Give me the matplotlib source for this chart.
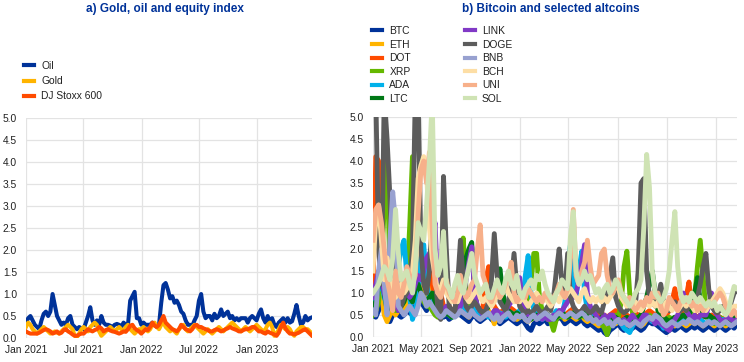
import matplotlib.pyplot as plt
import matplotlib.dates as mdates
import matplotlib.ticker as mticker
import pandas as pd

# weekly observations, Jan 2021 - Jun 2023
dates = pd.date_range("2021-01-01", periods=130, freq="7D")

# panel a)
oil = [
    0.35, 0.45, 0.5, 0.4, 0.3, 0.25, 0.2, 0.4, 0.55, 0.6,
    0.5, 0.6, 1.0, 0.75, 0.5, 0.4, 0.3, 0.35, 0.3, 0.45,
    0.5, 0.3, 0.25, 0.2, 0.25, 0.22, 0.2, 0.35, 0.5, 0.7,
    0.4, 0.3, 0.4, 0.3, 0.5, 0.35, 0.3, 0.3, 0.28, 0.25,
    0.3, 0.32, 0.3, 0.25, 0.35, 0.3, 0.3, 0.85, 0.95, 1.05,
    0.45, 0.45, 0.3, 0.35, 0.3, 0.3, 0.3, 0.35, 0.3, 0.25,
    0.3, 0.8, 1.2, 1.25, 1.1, 0.9, 0.95, 0.8, 0.85, 0.75,
    0.6, 0.55, 0.4, 0.3, 0.3, 0.28, 0.4, 0.5, 0.85, 1.0,
    0.6, 0.45, 0.5, 0.5, 0.4, 0.55, 0.45, 0.5, 0.65, 0.5,
    0.55, 0.6, 0.45, 0.5, 0.4, 0.45, 0.4, 0.45, 0.45, 0.45,
    0.35, 0.45, 0.5, 0.45, 0.4, 0.55, 0.65, 0.45, 0.35, 0.5,
    0.35, 0.45, 0.3, 0.25, 0.35, 0.4, 0.45, 0.35, 0.45, 0.35,
    0.38, 0.55, 0.75, 0.5, 0.3, 0.35, 0.5, 0.4, 0.45, 0.47,
]
gold = [
    0.25, 0.35, 0.3, 0.2, 0.15, 0.1, 0.15, 0.2, 0.25, 0.2,
    0.15, 0.1, 0.12, 0.15, 0.12, 0.1, 0.15, 0.2, 0.25, 0.3,
    0.25, 0.2, 0.05, 0.02, 0.1, 0.2, 0.25, 0.2, 0.15, 0.25,
    0.3, 0.35, 0.3, 0.15, 0.05, 0.1, 0.15, 0.2, 0.25, 0.2,
    0.15, 0.2, 0.25, 0.2, 0.15, 0.25, 0.3, 0.2, 0.15, 0.1,
    0.15, 0.2, 0.2, 0.25, 0.2, 0.15, 0.2, 0.3, 0.35, 0.25,
    0.2, 0.3, 0.35, 0.25, 0.2, 0.15, 0.2, 0.15, 0.1, 0.2,
    0.25, 0.3, 0.2, 0.15, 0.2, 0.25, 0.3, 0.25, 0.2, 0.15,
    0.1, 0.15, 0.2, 0.15, 0.1, 0.15, 0.2, 0.25, 0.2, 0.15,
    0.2, 0.25, 0.3, 0.35, 0.3, 0.25, 0.2, 0.15, 0.2, 0.25,
    0.2, 0.15, 0.2, 0.25, 0.3, 0.25, 0.2, 0.15, 0.2, 0.3,
    0.35, 0.25, 0.05, 0.1, 0.2, 0.3, 0.25, 0.2, 0.25, 0.2,
    0.1, 0.05, 0.15, 0.2, 0.25, 0.25, 0.2, 0.2, 0.15, 0.1,
]
stoxx = [
    0.15, 0.12, 0.1, 0.1, 0.1, 0.1, 0.12, 0.15, 0.18, 0.2,
    0.18, 0.15, 0.1, 0.12, 0.15, 0.1, 0.12, 0.18, 0.2, 0.15,
    0.12, 0.08, 0.05, 0.05, 0.08, 0.1, 0.1, 0.15, 0.2, 0.17,
    0.15, 0.18, 0.2, 0.25, 0.22, 0.15, 0.18, 0.2, 0.17, 0.15,
    0.14, 0.12, 0.1, 0.12, 0.15, 0.14, 0.2, 0.28, 0.3, 0.22,
    0.18, 0.15, 0.1, 0.15, 0.2, 0.18, 0.25, 0.35, 0.28, 0.25,
    0.3, 0.4, 0.5, 0.35, 0.3, 0.25, 0.2, 0.18, 0.15, 0.2,
    0.3, 0.25, 0.2, 0.18, 0.15, 0.2, 0.28, 0.3, 0.25, 0.25,
    0.22, 0.2, 0.18, 0.15, 0.15, 0.18, 0.2, 0.18, 0.15, 0.17,
    0.2, 0.22, 0.25, 0.22, 0.2, 0.18, 0.15, 0.15, 0.18, 0.2,
    0.2, 0.22, 0.25, 0.25, 0.2, 0.15, 0.15, 0.12, 0.1, 0.15,
    0.12, 0.1, 0.08, 0.05, 0.12, 0.25, 0.35, 0.22, 0.15, 0.1,
    0.1, 0.08, 0.1, 0.12, 0.15, 0.18, 0.2, 0.15, 0.1, 0.05,
]

# panel b)
btc = [
    0.5, 0.45, 0.6, 0.8, 0.7, 0.4, 0.35, 0.5, 0.6, 0.5,
    0.45, 0.5, 0.6, 0.55, 0.5, 0.7, 0.9, 0.8, 0.7, 0.6,
    0.9, 1.3, 0.8, 0.6, 0.5, 0.45, 0.5, 0.4, 0.45, 0.5,
    0.55, 0.5, 0.45, 0.4, 0.35, 0.45, 0.5, 0.4, 0.35, 0.4,
    0.45, 0.5, 0.4, 0.35, 0.4, 0.3, 0.35, 0.4, 0.45, 0.4,
    0.35, 0.3, 0.35, 0.4, 0.3, 0.2, 0.15, 0.3, 0.35, 0.3,
    0.35, 0.4, 0.3, 0.35, 0.3, 0.4, 0.45, 0.4, 0.3, 0.35,
    0.4, 0.35, 0.3, 0.35, 0.4, 0.3, 0.25, 0.3, 0.25, 0.2,
    0.15, 0.2, 0.1, 0.05, 0.15, 0.2, 0.25, 0.3, 0.2, 0.15,
    0.2, 0.15, 0.2, 0.25, 0.2, 0.15, 0.2, 0.3, 0.35, 0.3,
    0.3, 0.25, 0.2, 0.15, 0.1, 0.15, 0.2, 0.15, 0.2, 0.25,
    0.2, 0.15, 0.2, 0.25, 0.2, 0.25, 0.2, 0.15, 0.2, 0.25,
    0.2, 0.15, 0.2, 0.25, 0.2, 0.15, 0.2, 0.25, 0.2, 0.3,
]
eth = [
    0.7, 0.6, 0.9, 1.0, 0.5, 0.35, 0.5, 0.6, 0.5, 0.6,
    0.7, 0.6, 0.8, 0.9, 0.8, 1.0, 1.2, 1.1, 0.9, 0.8,
    1.1, 1.4, 0.9, 0.7, 0.6, 0.55, 0.6, 0.5, 0.55, 0.6,
    0.65, 0.6, 0.55, 0.5, 0.45, 0.55, 0.6, 0.5, 0.45, 0.5,
    0.55, 0.6, 0.5, 0.3, 0.45, 0.4, 0.45, 0.5, 0.55, 0.5,
    0.45, 0.4, 0.45, 0.5, 0.4, 0.35, 0.4, 0.45, 0.5, 0.45,
    0.45, 0.5, 0.4, 0.45, 0.4, 0.5, 0.55, 0.5, 0.4, 0.45,
    0.5, 0.45, 0.4, 0.45, 0.5, 0.4, 0.35, 0.4, 0.35, 0.3,
    0.25, 0.3, 0.25, 0.2, 0.3, 0.35, 0.3, 0.35, 0.3, 0.25,
    0.3, 0.25, 0.3, 0.35, 0.3, 0.25, 0.3, 0.4, 0.45, 0.4,
    0.4, 0.35, 0.3, 0.25, 0.2, 0.25, 0.3, 0.25, 0.3, 0.35,
    0.3, 0.25, 0.3, 0.35, 0.3, 0.35, 0.3, 0.25, 0.3, 0.35,
    0.3, 0.25, 0.3, 0.35, 0.3, 0.25, 0.3, 0.35, 0.3, 0.4,
]
dot = [
    1.0, 4.1, 4.0, 2.0, 1.5, 1.2, 1.0, 1.2, 0.9, 1.1,
    1.3, 1.0, 0.9, 1.2, 1.5, 1.3, 1.6, 1.5, 1.4, 1.8,
    1.5, 1.2, 0.9, 1.7, 1.0, 0.7, 0.6, 0.7, 0.6, 0.55,
    0.6, 0.7, 0.75, 0.7, 0.75, 0.9, 0.8, 0.7, 0.6, 0.7,
    1.3, 1.6, 0.9, 0.7, 0.6, 0.55, 0.6, 0.55, 0.6, 0.65,
    0.6, 0.55, 0.5, 0.55, 0.6, 0.55, 0.5, 0.55, 0.6, 0.55,
    0.5, 0.55, 0.5, 0.45, 0.5, 0.55, 0.6, 0.55, 0.5, 0.55,
    0.6, 0.65, 0.6, 0.55, 0.6, 0.65, 0.6, 0.55, 0.5, 0.55,
    0.5, 0.45, 0.5, 0.45, 0.5, 0.55, 0.6, 0.55, 0.5, 0.45,
    0.5, 0.45, 0.5, 0.55, 0.5, 0.45, 0.5, 0.55, 0.6, 0.55,
    0.5, 0.55, 0.5, 0.45, 0.5, 0.6, 0.8, 1.1, 0.7, 0.5,
    0.6, 0.9, 1.25, 0.7, 0.5, 0.45, 0.5, 0.45, 0.5, 0.45,
    0.5, 0.45, 0.5, 0.45, 0.4, 0.45, 0.5, 0.45, 0.4, 0.45,
]
xrp = [
    0.5, 0.6, 0.8, 1.5, 3.0, 4.0, 1.5, 0.8, 0.6, 0.7,
    0.8, 0.9, 1.2, 2.5, 4.1, 2.0, 1.2, 0.9, 0.8, 0.7,
    0.7, 0.6, 0.5, 0.45, 0.45, 0.5, 0.55, 0.5, 0.45, 0.6,
    1.0, 1.8, 2.25, 1.1, 0.7, 0.6, 0.55, 0.6, 0.55, 0.5,
    0.55, 0.5, 0.45, 0.5, 0.55, 0.5, 0.45, 0.5, 0.55, 0.5,
    0.45, 0.5, 0.45, 0.5, 0.55, 0.7, 1.2, 1.9, 1.9, 0.9,
    0.6, 0.5, 0.45, 0.35, 0.15, 0.4, 0.5, 0.45, 0.5, 0.45,
    0.5, 0.55, 0.5, 0.45, 0.5, 0.45, 0.5, 0.45, 0.4, 0.45,
    0.4, 0.3, 0.2, 0.05, 0.3, 0.45, 0.5, 0.45, 0.8, 1.6,
    1.95, 1.0, 0.55, 0.45, 0.4, 0.45, 0.5, 0.45, 0.5, 0.45,
    0.4, 0.45, 0.4, 0.3, 0.4, 0.45, 0.4, 0.45, 0.4, 0.45,
    0.5, 0.45, 0.5, 0.45, 0.9, 1.6, 2.2, 1.4, 0.6, 0.45,
    0.4, 0.3, 0.4, 0.45, 0.4, 0.3, 0.4, 0.45, 0.4, 0.45,
]
ada = [
    0.8, 0.9, 1.1, 1.3, 0.9, 0.7, 0.8, 1.0, 1.2, 1.6,
    2.0, 2.2, 1.4, 0.9, 0.4, 0.6, 1.0, 1.8, 2.1, 1.2,
    0.9, 0.8, 0.7, 0.6, 0.5, 0.5, 0.6, 0.5, 0.45, 0.5,
    0.6, 0.8, 0.7, 0.6, 0.6, 0.7, 0.6, 0.5, 0.5, 0.55,
    0.5, 0.45, 0.5, 0.45, 0.5, 0.55, 0.5, 0.45, 0.5, 0.55,
    0.5, 0.55, 0.6, 0.8, 1.4, 1.85, 1.0, 0.6, 0.5, 0.45,
    0.4, 0.45, 0.5, 0.45, 0.5, 0.6, 0.55, 0.5, 0.8, 1.7,
    2.1, 1.0, 0.9, 1.5, 1.95, 1.0, 0.6, 0.5, 0.45, 0.4,
    0.4, 0.35, 0.4, 0.35, 0.4, 0.45, 0.4, 0.35, 0.3, 0.2,
    0.15, 0.1, 0.25, 0.35, 0.4, 0.45, 0.5, 0.45, 0.4, 0.35,
    0.4, 0.35, 0.3, 0.2, 0.25, 0.3, 0.35, 0.3, 0.35, 0.4,
    0.4, 0.35, 0.4, 0.45, 0.4, 0.35, 0.4, 0.35, 0.3, 0.35,
    0.4, 0.35, 0.3, 0.35, 0.4, 0.35, 0.3, 0.35, 0.4, 0.35,
]
ltc = [
    0.7, 0.8, 1.2, 1.5, 1.0, 0.6, 0.7, 0.9, 0.8, 0.6,
    0.7, 0.8, 1.0, 0.9, 0.8, 1.1, 1.2, 1.0, 0.9, 0.8,
    0.9, 1.0, 0.8, 0.6, 0.45, 0.5, 0.55, 0.5, 0.45, 0.5,
    0.55, 0.8, 1.4, 1.8, 2.0, 2.15, 1.0, 0.7, 0.6, 0.55,
    0.6, 0.7, 0.8, 0.9, 1.2, 1.55, 1.0, 0.7, 0.6, 0.55,
    0.5, 0.55, 0.5, 0.45, 0.5, 0.45, 0.4, 0.45, 0.5, 0.45,
    0.5, 0.55, 0.5, 0.45, 0.4, 0.45, 0.5, 0.55, 0.5, 0.45,
    0.5, 0.55, 0.5, 0.45, 0.5, 0.55, 0.5, 0.45, 0.4, 0.45,
    0.4, 0.45, 0.4, 0.3, 0.35, 0.4, 0.45, 0.4, 0.35, 0.4,
    0.45, 0.4, 0.35, 0.4, 0.45, 0.5, 0.7, 0.9, 1.2, 1.5,
    1.0, 0.6, 0.5, 0.45, 0.4, 0.35, 0.4, 0.45, 0.4, 0.45,
    0.5, 0.45, 0.5, 0.7, 1.0, 1.35, 0.8, 0.5, 0.45, 0.5,
    0.45, 0.4, 0.45, 0.4, 0.3, 0.35, 0.4, 0.35, 0.4, 0.5,
]
link = [
    0.9, 1.2, 1.5, 1.3, 1.0, 0.8, 1.0, 1.2, 0.8, 0.6,
    0.8, 1.0, 1.1, 0.9, 1.0, 1.2, 1.4, 1.3, 1.5, 1.8,
    1.9, 2.0, 2.6, 1.0, 0.7, 0.6, 0.7, 0.6, 0.5, 0.6,
    0.6, 0.7, 0.9, 1.3, 1.7, 2.05, 1.0, 0.7, 0.6, 0.5,
    0.6, 0.5, 0.5, 0.6, 0.6, 0.5, 0.5, 0.6, 0.7, 0.8,
    1.0, 1.2, 1.35, 0.7, 0.6, 0.5, 0.5, 0.5, 0.4, 0.5,
    0.4, 0.5, 0.4, 0.4, 0.5, 0.5, 0.6, 0.6, 0.7, 0.8,
    1.0, 0.9, 1.0, 1.3, 1.7, 2.1, 1.0, 0.7, 0.6, 0.5,
    0.4, 0.4, 0.5, 0.4, 0.5, 0.5, 0.4, 0.4, 0.3, 0.4,
    0.3, 0.4, 0.5, 0.4, 0.3, 0.4, 0.5, 0.5, 0.4, 0.4,
    0.3, 0.4, 0.3, 0.25, 0.2, 0.15, 0.25, 0.4, 0.5, 0.7,
    1.0, 0.6, 0.5, 0.4, 0.5, 0.4, 0.5, 0.5, 0.5, 0.7,
    1.0, 0.6, 0.5, 0.4, 0.35, 0.4, 0.45, 0.4, 0.35, 0.4,
]
doge = [
    5.5, 5.5, 2.0, 1.2, 5.5, 4.5, 3.2, 1.5, 1.0, 0.8,
    0.7, 0.9, 1.0, 1.2, 2.0, 5.5, 5.5, 2.0, 1.2, 1.0,
    1.5, 2.8, 1.5, 0.6, 0.4, 3.65, 2.0, 0.7, 0.6, 0.55,
    1.2, 2.2, 1.3, 0.7, 0.6, 0.7, 0.8, 0.7, 0.6, 0.55,
    0.6, 0.8, 1.3, 2.35, 1.4, 0.8, 0.7, 0.6, 0.8, 1.2,
    1.9, 1.1, 0.7, 0.6, 0.55, 0.6, 0.55, 0.6, 0.7, 0.6,
    0.55, 0.6, 0.7, 0.6, 0.9, 1.5, 2.0, 1.2, 1.0, 1.9,
    0.9, 0.7, 0.6, 0.55, 0.6, 0.7, 0.6, 0.55, 0.6, 0.7,
    0.6, 0.55, 0.8, 1.0, 1.4, 1.8, 0.9, 0.7, 0.6, 0.55,
    0.6, 0.7, 0.8, 0.7, 1.5, 3.5, 3.6, 1.5, 0.9, 0.8,
    0.7, 0.9, 1.2, 0.8, 0.7, 0.6, 0.7, 0.8, 0.7, 0.6,
    0.7, 0.6, 0.7, 0.8, 0.7, 0.9, 1.2, 1.6, 1.9, 1.1,
    0.7, 0.6, 0.55, 0.6, 0.7, 0.6, 0.55, 0.8, 1.0, 1.05,
]
bnb = [
    0.6, 0.5, 1.5, 2.0, 1.2, 0.5, 2.2, 3.3, 2.6, 0.7,
    0.6, 0.5, 0.6, 0.7, 0.6, 0.5, 0.7, 1.0, 0.9, 0.7,
    0.8, 0.7, 0.6, 0.5, 0.45, 0.5, 0.6, 0.55, 0.5, 0.45,
    0.5, 0.6, 0.55, 0.5, 0.45, 0.6, 0.5, 0.45, 0.4, 0.45,
    0.5, 0.55, 0.45, 0.4, 0.5, 0.35, 0.45, 0.5, 0.55, 0.45,
    0.4, 0.5, 0.45, 0.5, 0.4, 0.35, 0.45, 0.5, 0.4, 0.45,
    0.5, 0.55, 0.5, 0.45, 0.4, 0.5, 0.55, 0.5, 0.45, 0.5,
    0.55, 0.5, 0.45, 0.5, 0.55, 0.5, 0.4, 0.45, 0.35, 0.4,
    0.3, 0.35, 0.4, 0.3, 0.35, 0.25, 0.35, 0.4, 0.3, 0.35,
    0.3, 0.25, 0.3, 0.35, 0.3, 0.25, 0.35, 0.4, 0.45, 0.4,
    0.5, 0.45, 0.4, 0.3, 0.25, 0.3, 0.35, 0.3, 0.25, 0.3,
    0.35, 0.3, 0.4, 0.35, 0.3, 0.35, 0.3, 0.25, 0.3, 0.35,
    0.3, 0.35, 0.3, 0.25, 0.3, 0.35, 0.3, 0.25, 0.3, 0.35,
]
bch = [
    1.5, 2.7, 3.0, 2.2, 1.3, 1.8, 1.4, 1.0, 0.9, 1.1,
    1.2, 1.0, 1.1, 1.3, 1.5, 2.2, 3.6, 3.9, 4.1, 3.7,
    2.5, 1.8, 1.4, 1.0, 1.1, 1.3, 1.0, 0.9, 0.8, 0.9,
    0.8, 1.0, 1.1, 0.9, 0.8, 0.9, 1.0, 1.1, 0.9, 0.8,
    0.9, 0.8, 0.7, 0.8, 1.0, 0.9, 1.1, 1.2, 1.0, 0.9,
    0.8, 0.9, 0.8, 0.9, 0.8, 0.7, 0.8, 0.9, 1.0, 0.9,
    0.8, 0.9, 0.8, 0.7, 0.8, 0.9, 0.8, 1.0, 0.9, 1.0,
    1.1, 1.0, 0.9, 0.8, 1.0, 1.1, 0.9, 0.8, 0.9, 0.8,
    0.9, 0.8, 0.9, 0.8, 0.9, 1.0, 1.2, 1.1, 0.9, 0.8,
    0.7, 0.8, 0.7, 0.8, 0.7, 0.6, 0.7, 0.8, 0.7, 0.8,
    0.7, 0.8, 0.6, 0.7, 0.8, 0.7, 0.6, 0.7, 0.6, 0.7,
    0.8, 0.7, 0.8, 0.7, 0.6, 0.7, 0.8, 0.7, 0.6, 0.7,
    0.8, 0.9, 1.0, 1.1, 1.0, 0.8, 0.7, 0.6, 0.7, 0.7,
]
uni = [
    2.2, 2.9, 3.0, 2.6, 2.0, 1.3, 1.0, 0.6, 1.5, 1.0,
    0.9, 1.2, 1.6, 1.4, 1.2, 1.4, 2.8, 3.8, 4.0, 3.5,
    4.2, 2.5, 1.2, 1.0, 0.9, 1.1, 1.3, 1.0, 0.9, 0.8,
    1.0, 1.4, 1.1, 0.9, 1.0, 1.2, 1.3, 2.0, 2.55, 1.4,
    1.2, 0.9, 0.8, 1.0, 1.1, 0.9, 1.0, 1.2, 1.3, 1.7,
    1.0, 0.8, 0.9, 1.0, 0.9, 1.1, 1.0, 0.9, 0.8, 0.9,
    0.8, 1.0, 0.9, 0.8, 0.9, 1.0, 1.2, 1.0, 0.9, 1.1,
    1.8, 2.9, 1.4, 1.2, 1.5, 1.7, 2.2, 1.6, 1.2, 1.3,
    1.4, 1.9, 2.0, 1.4, 1.1, 1.0, 1.2, 1.3, 1.0, 0.9,
    0.8, 0.9, 0.7, 0.6, 0.7, 0.8, 0.7, 0.9, 0.8, 1.0,
    0.9, 1.0, 0.7, 0.5, 0.6, 0.9, 0.8, 0.7, 0.6, 0.8,
    0.9, 0.8, 0.9, 0.7, 0.8, 0.6, 0.7, 0.6, 0.7, 0.8,
    0.7, 0.8, 0.9, 1.0, 0.9, 0.7, 0.6, 0.5, 0.6, 0.5,
]
sol = [
    1.0, 1.1, 1.2, 1.4, 1.6, 1.5, 1.3, 1.8, 2.9, 1.9,
    1.3, 1.4, 1.5, 1.2, 1.0, 1.6, 2.6, 2.4, 2.2, 3.0,
    4.0, 5.4, 2.0, 1.4, 1.6, 2.4, 1.2, 1.1, 0.9, 1.2,
    1.4, 1.1, 1.0, 1.3, 1.6, 1.9, 1.4, 1.2, 1.0, 1.1,
    1.2, 0.9, 0.9, 1.1, 1.3, 1.1, 1.0, 1.3, 1.5, 1.2,
    1.1, 1.4, 1.0, 0.9, 1.1, 1.2, 1.3, 1.1, 1.4, 1.3,
    1.5, 1.2, 1.0, 0.9, 0.8, 1.0, 1.1, 1.3, 1.2, 1.1,
    2.3, 2.85, 1.5, 1.2, 1.3, 1.5, 1.3, 1.4, 1.2, 1.0,
    1.1, 0.9, 1.1, 1.2, 1.0, 1.1, 1.3, 1.2, 1.0, 0.9,
    0.8, 0.7, 0.8, 1.0, 1.1, 1.3, 2.5, 4.15, 3.4, 1.5,
    1.0, 0.9, 0.8, 0.9, 1.1, 1.5, 2.2, 2.85, 1.6, 1.0,
    0.8, 0.9, 0.8, 1.0, 0.9, 0.8, 0.9, 0.8, 0.7, 0.8,
    0.7, 0.8, 0.6, 0.7, 0.6, 0.5, 0.6, 0.9, 1.15, 1.1,
]

left_series = [("Oil", oil, "#003299"), ("Gold", gold, "#ffb400"),
               ("DJ Stoxx 600", stoxx, "#ff4b00")]
right_series = [
    ("BTC", btc, "#003299"), ("ETH", eth, "#ffb400"), ("DOT", dot, "#ff4b00"),
    ("XRP", xrp, "#65b800"), ("ADA", ada, "#00b1ea"), ("LTC", ltc, "#007816"),
    ("LINK", link, "#8139c6"), ("DOGE", doge, "#5c5c5c"), ("BNB", bnb, "#98a1d0"),
    ("BCH", bch, "#fddea5"), ("UNI", uni, "#f7b08a"), ("SOL", sol, "#cfe3b4"),
]

plt.rcParams.update({"font.family": "Liberation Sans", "font.size": 7.4})
title_color = "#003299"
text_color = "#222222"
grid_color = "#e3e3e3"

fig = plt.figure(figsize=(7.44, 3.62), dpi=100)
ax1 = fig.add_axes([0.0349, 0.0663, 0.3845, 0.6077])
ax2 = fig.add_axes([0.5013, 0.069, 0.4892, 0.6077])


def style_axis(ax, months):
    ax.set_xlim(dates[0], dates[-1])
    ax.set_ylim(0, 5)
    ax.yaxis.set_major_locator(mticker.MultipleLocator(0.5))
    ax.yaxis.set_major_formatter(mticker.FormatStrFormatter("%.1f"))
    ax.xaxis.set_major_locator(mdates.MonthLocator(bymonth=months))
    ax.xaxis.set_major_formatter(mdates.DateFormatter("%b %Y"))
    ax.grid(True, color=grid_color, linewidth=0.9)
    ax.set_axisbelow(True)
    for s in ax.spines.values():
        s.set_visible(False)
    ax.tick_params(axis="both", length=0, colors=text_color, labelsize=7.4)
    ax.tick_params(axis="y", pad=6.5)
    ax.tick_params(axis="x", pad=5)


for name, vals, col in left_series:
    ax1.plot(dates, vals, color=col, linewidth=2.9, label=name,
             solid_joinstyle="round")
style_axis(ax1, [1, 7])

for name, vals, col in right_series:
    ax2.plot(dates, vals, color=col, linewidth=3.5, label=name,
             solid_joinstyle="round")
style_axis(ax2, [1, 5, 9])

leg1 = ax1.legend(loc="upper left", bbox_to_anchor=(24 / 744, 1 - 61 / 362),
                  bbox_transform=fig.transFigure, frameon=False, borderpad=0,
                  borderaxespad=0, handlelength=1.0, handletextpad=0.7,
                  labelspacing=0.5, fontsize=7.4, labelcolor=text_color)

leg2 = ax2.legend(loc="upper left", bbox_to_anchor=(372 / 744, 1 - 26 / 362),
                  bbox_transform=fig.transFigure, frameon=False, borderpad=0,
                  borderaxespad=0, handlelength=1.0, handletextpad=0.7,
                  labelspacing=0.35, columnspacing=5.2, ncol=2, fontsize=7.4,
                  labelcolor=text_color)
for leg in (leg1, leg2):
    for h in leg.get_lines():
        h.set_linewidth(3.0)

fig.text(165 / 744, 1 - 9 / 362, "a) Gold, oil and equity index",
         ha="center", va="center", fontsize=8.5, fontweight="bold",
         color=title_color)
fig.text(551 / 744, 1 - 9 / 362, "b) Bitcoin and selected altcoins",
         ha="center", va="center", fontsize=8.5, fontweight="bold",
         color=title_color)

fig.savefig("out.png", dpi=100)
